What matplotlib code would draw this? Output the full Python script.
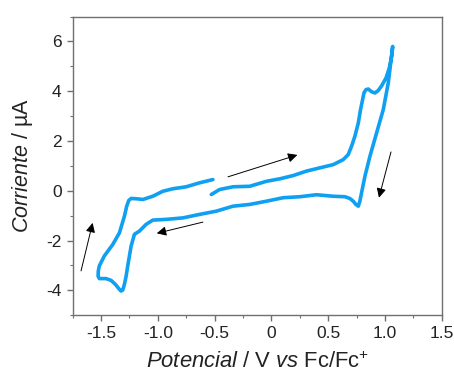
import numpy as np
import matplotlib.pyplot as plt
from matplotlib.ticker import MultipleLocator

plt.rcParams['font.family'] = ['Liberation Sans', 'DejaVu Sans']
plt.rcParams['mathtext.fontset'] = 'custom'
plt.rcParams['mathtext.rm'] = 'Liberation Sans'
plt.rcParams['mathtext.it'] = 'Liberation Sans:italic'

# scan: start at -0.53 V, go anodic to 1.07 V, back to -1.52 V, return to -0.51 V
potential = [-0.529, -0.456, -0.338, -0.191, -0.044, 0.074, 0.191, 0.309, 0.426, 0.544,
             0.632, 0.676, 0.706, 0.735, 0.765, 0.785, 0.803, 0.815, 0.832, 0.853, 0.882,
             0.912, 0.941, 0.971, 1.009, 1.038, 1.059, 1.068,
             1.029, 0.985, 0.926, 0.868, 0.824, 0.794, 0.779, 0.765, 0.744, 0.721, 0.691,
             0.647, 0.544, 0.397, 0.25, 0.103, -0.044, -0.191, -0.338, -0.485, -0.632,
             -0.779, -0.926, -1.044, -1.103, -1.162, -1.206, -1.235, -1.25, -1.265, -1.279,
             -1.294, -1.309, -1.324, -1.344, -1.374, -1.412, -1.456, -1.515, -1.526, -1.524,
             -1.515, -1.471, -1.397, -1.338, -1.294, -1.274, -1.256, -1.235, -1.191, -1.132,
             -1.044, -0.956, -0.868, -0.75, -0.632, -0.515]
current = [-0.15, 0.05, 0.16, 0.18, 0.38, 0.48, 0.61, 0.79, 0.92, 1.05,
           1.25, 1.45, 1.79, 2.19, 2.72, 3.26, 3.66, 3.93, 4.06, 4.09, 3.98,
           3.93, 4.03, 4.22, 4.53, 4.93, 5.40, 5.80,
           4.33, 3.26, 2.32, 1.39, 0.59, -0.08, -0.42, -0.62, -0.55, -0.42, -0.31,
           -0.24, -0.22, -0.16, -0.24, -0.28, -0.42, -0.55, -0.62, -0.82, -0.95,
           -1.09, -1.15, -1.18, -1.35, -1.62, -1.75, -2.22, -2.62, -3.02, -3.43,
           -3.76, -3.99, -4.03, -3.93, -3.76, -3.60, -3.53, -3.53, -3.43, -3.22,
           -3.02, -2.62, -2.16, -1.69, -1.02, -0.62, -0.39, -0.31, -0.32, -0.35,
           -0.22, -0.02, 0.08, 0.16, 0.32, 0.45]

# scan direction arrows: (x_tail, y_tail, x_head, y_head)
arrows = [(-0.382, 0.56, 0.229, 1.44),
          (-0.603, -1.26, -1.009, -1.71),
          (-1.676, -3.22, -1.574, -1.29),
          (1.053, 1.56, 0.947, -0.28)]

fig = plt.figure(figsize=(4.54, 3.77), dpi=100)
ax = fig.add_axes([0.160, 0.164, 0.813, 0.792])

ax.plot(potential, current, color='#0fa0f2', lw=2.6, solid_capstyle='round',
        solid_joinstyle='round')

for x0, y0, x1, y1 in arrows:
    ax.annotate('', xy=(x1, y1), xytext=(x0, y0),
                arrowprops=dict(arrowstyle='-|>', color='k', lw=0.7,
                                mutation_scale=14, shrinkA=0, shrinkB=0))

ax.set_xlim(-1.75, 1.5)
ax.set_ylim(-5, 7)
ax.set_xticks([-1.5, -1.0, -0.5, 0, 0.5, 1.0, 1.5])
ax.set_xticklabels(['-1.5', '-1.0', '-0.5', '0', '0.5', '1.0', '1.5'])
ax.set_yticks([-4, -2, 0, 2, 4, 6])
ax.set_yticklabels(['-4', '-2', '0', '2', '4', '6'])
ax.xaxis.set_minor_locator(MultipleLocator(0.25))
ax.yaxis.set_minor_locator(MultipleLocator(1))

for s in ax.spines.values():
    s.set_color('#707070')
    s.set_linewidth(1.0)
ax.tick_params(which='both', direction='out', color='#707070', labelsize=12.5,
               labelcolor='#222222')
ax.tick_params(which='major', length=4, width=1.0, pad=4)
ax.tick_params(which='minor', length=2.5, width=0.8)

ax.set_xlabel(r'$\mathit{Potencial}$ / V $\mathit{vs}$ Fc/Fc$^{+}$', fontsize=15.8,
              labelpad=7, color='#222222')
ax.set_ylabel(r'$\mathit{Corriente}$ / µA', fontsize=15.5, labelpad=8, color='#222222')

fig.savefig('out.png', dpi=100)
